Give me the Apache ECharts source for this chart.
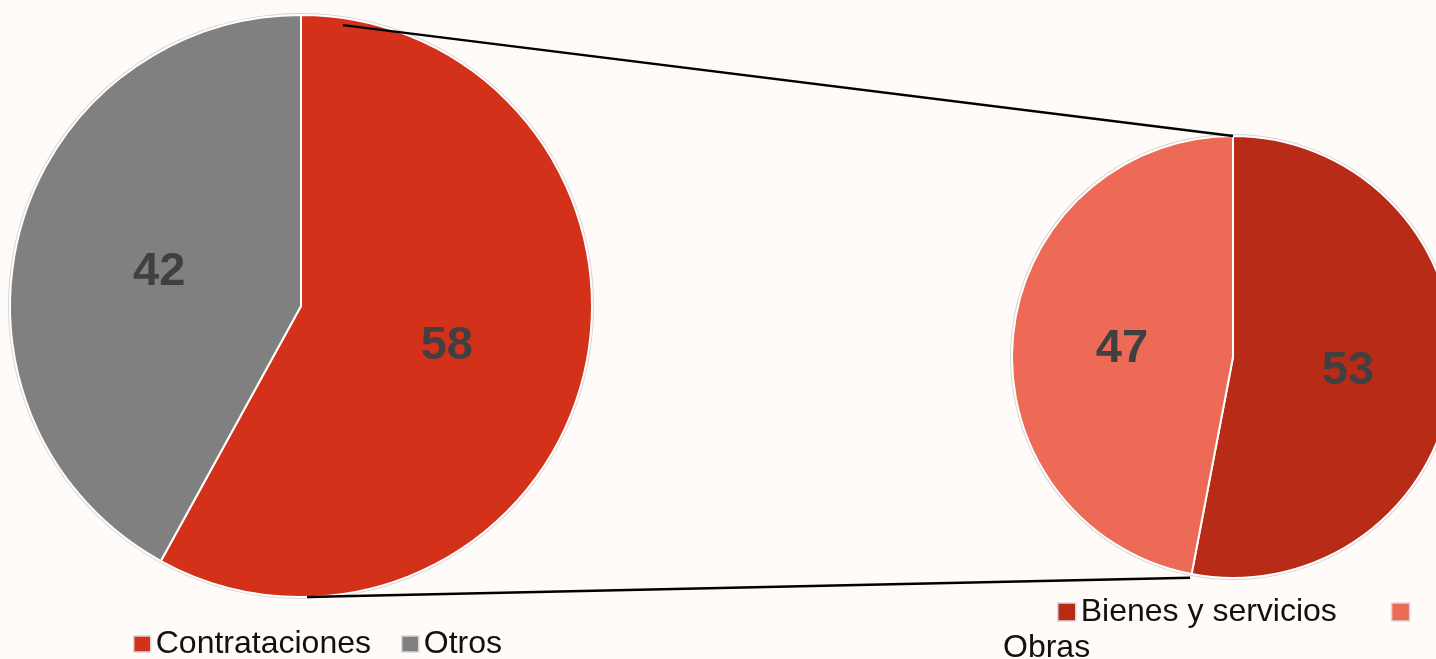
<!DOCTYPE html>
<html>
<head>
<meta charset="utf-8">
<script src="https://cdn.jsdelivr.net/npm/echarts@6/dist/echarts.min.js"></script>
<style>
  html, body { margin: 0; padding: 0; background: #fffbf8; }
  #chart { width: 1436px; height: 659px; }
</style>
</head>
<body>
<div id="chart"></div>
<script>
// datos
const mainNames = ["Contrataciones", "Otros"];
const mainValues = [58, 42];
const subNames = ["Bienes y servicios", "Obras"];
const subValues = [53, 47];

const mainColors = ["#d4311a", "#808080"];
const subColors = ["#b72b17", "#ec6a56"];

// posiciones de las tortas
const leftC = [301, 306], leftR = 291;
const rightC = [1233, 357], rightR = 221;

const chart = echarts.init(document.getElementById("chart"));

const labelStyle = {
  show: true,
  position: "inside",
  formatter: "{c}",
  color: "#404040",
  fontSize: 47,
  fontWeight: "bold",
  fontFamily: "Liberation Sans, Arial, sans-serif",
  offset: [2, 3],
};

// punto sobre el borde de una torta, angulo en grados desde las 12 en sentido horario
const onPie = (c, r, deg) => {
  const a = (deg * Math.PI) / 180;
  return [c[0] + r * Math.sin(a), c[1] - r * Math.cos(a)];
};

const ring = (c, r) => ({
  type: "pie",
  center: c,
  radius: [r, r + 2],
  silent: true,
  z: 1,
  label: { show: false },
  labelLine: { show: false },
  itemStyle: { color: "#d6d6d6" },
  data: [{ value: 1, name: "" }],
  legendHoverLink: false,
});

const p1 = onPie(leftC, leftR - 7, 8.5);
const p2 = onPie(rightC, rightR, 0);
const p3 = onPie(leftC, leftR, 178.8);
const p4 = onPie(rightC, rightR + 4, 191);

const legendText = {
  color: "#111111",
  fontSize: 32,
  lineHeight: 32,
  fontFamily: "Liberation Sans, Arial, sans-serif",
};

const option = {
  backgroundColor: "#fffbf8",
  animation: false,
  legend: [
    {
      data: mainNames,
      left: 133,
      top: 628,
      padding: 0,
      itemWidth: 17,
      itemHeight: 16,
      itemGap: 30,
      icon: "rect",
      itemStyle: { borderColor: "#d8d8d8", borderWidth: 1.5 },
      textStyle: legendText,
    },
    {
      data: subNames,
      left: 1057,
      top: 596,
      padding: 0,
      itemWidth: 18,
      itemHeight: 18,
      itemGap: 54,
      icon: "rect",
      itemStyle: { borderColor: "#d8d8d8", borderWidth: 1.5 },
      formatter: (n) => (n === "Obras" ? "" : n),
      textStyle: legendText,
    },
    {
      data: ["Obras"],
      left: 998,
      top: 632,
      padding: 0,
      itemWidth: 0,
      itemHeight: 0,
      icon: "none",
      selectedMode: false,
      textStyle: legendText,
    },
  ],
  graphic: [
    {
      type: "line",
      z: 100,
      shape: { x1: p1[0], y1: p1[1], x2: p2[0], y2: p2[1] },
      style: { stroke: "#000", lineWidth: 2.5 },
    },
    {
      type: "line",
      z: 100,
      shape: { x1: p3[0], y1: p3[1], x2: p4[0], y2: p4[1] },
      style: { stroke: "#000", lineWidth: 2.5 },
    },
  ],
  series: [
    ring(leftC, leftR),
    ring(rightC, rightR),
    {
      type: "pie",
      name: "Total",
      center: leftC,
      radius: [0, leftR],
      startAngle: 90,
      clockwise: true,
      z: 2,
      label: labelStyle,
      labelLine: { show: false },
      itemStyle: { borderColor: "#ffffff", borderWidth: 2 },
      emphasis: { scale: false },
      data: mainNames.map((n, i) => ({
        name: n,
        value: mainValues[i],
        itemStyle: { color: mainColors[i] },
      })),
    },
    {
      type: "pie",
      name: "Detalle",
      center: rightC,
      radius: [0, rightR],
      startAngle: 90,
      clockwise: true,
      z: 2,
      label: labelStyle,
      labelLine: { show: false },
      itemStyle: { borderColor: "#ffffff", borderWidth: 2 },
      emphasis: { scale: false },
      data: subNames.map((n, i) => ({
        name: n,
        value: subValues[i],
        itemStyle: { color: subColors[i] },
      })),
    },
  ],
};

chart.setOption(option);
</script>
</body>
</html>
